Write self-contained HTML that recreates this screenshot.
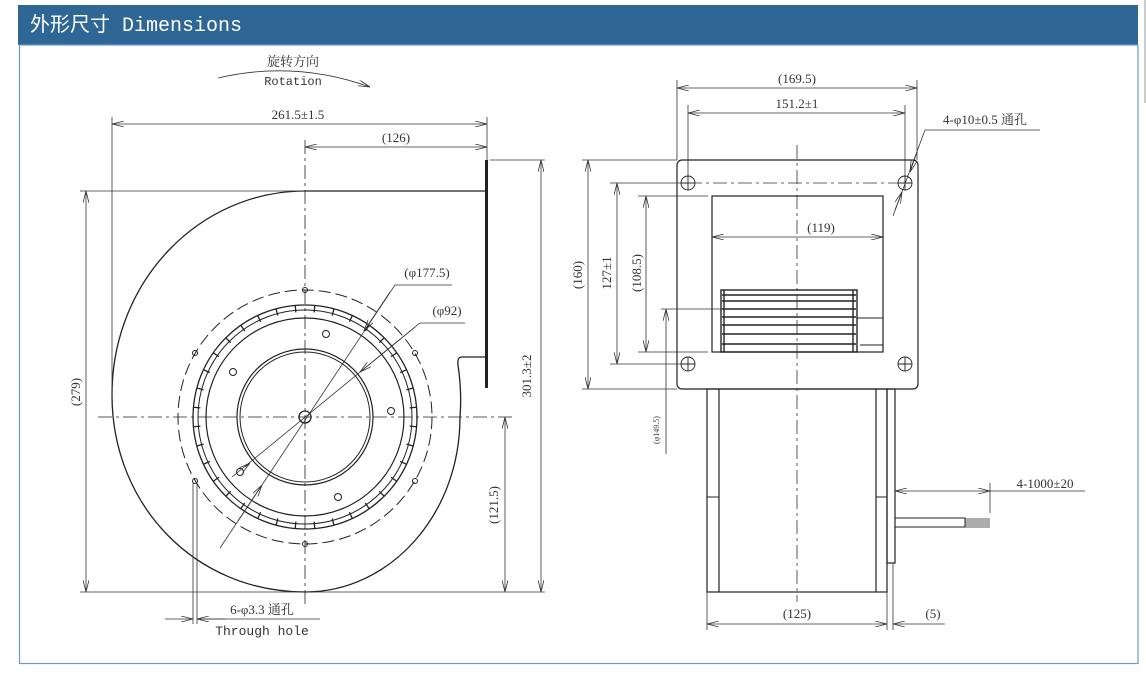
<!DOCTYPE html>
<html><head><meta charset="utf-8"><style>
html,body{margin:0;padding:0;background:#fff;}
svg{display:block;}
text{font-family:"Liberation Serif","Noto Serif CJK SC",serif;fill:#333;}
</style></head><body>
<svg width="1146" height="678" viewBox="0 0 1146 678" xmlns="http://www.w3.org/2000/svg">
<defs>
<marker id="a" viewBox="0 0 12 6" refX="12" refY="3" markerWidth="12" markerHeight="6" orient="auto-start-reverse" markerUnits="userSpaceOnUse"><path d="M0,0 L12,3 L0,6" fill="none" stroke="#333" stroke-width="0.8"/></marker>
</defs>
<rect x="18" y="5" width="1120" height="40" fill="#2e6696"/>
<text x="30" y="31" font-size="20" style="fill:#fff;font-family:'Liberation Mono','Noto Sans CJK SC',monospace">外形尺寸 Dimensions</text>
<rect x="19.5" y="45" width="1118.5" height="618.5" fill="none" stroke="#6a9cc8" stroke-width="1.2"/>
<line x1="1145" y1="0" x2="1145" y2="103" stroke="#bbb" stroke-width="1.5"/>

<g stroke="#222" fill="none" stroke-width="1">
<!-- LEFT VIEW -->
<path d="M305,191 L486,191 M486,357 L462,357 Q457,357 458,365 Q462,392 460,417 C460,515 390,592 305,592 C195,592 112,505 112,395 C112,280 200,191 305,191" stroke-width="1.3"/>
<rect x="485" y="160" width="3" height="228" fill="#222" stroke="none"/>
<circle cx="305" cy="417" r="127" stroke-dasharray="12,5"/>
<circle cx="305" cy="417" r="112" stroke-width="1.3"/>
<circle cx="305" cy="417" r="107"/>
<circle cx="305" cy="417" r="99" stroke-width="1.2"/>
<circle cx="305" cy="417" r="68" stroke-width="1.2"/>
<circle cx="305" cy="417" r="65"/>
<circle cx="305" cy="417" r="6" stroke-width="1.3"/>
<g stroke-width="1.3">
<line x1="305" y1="305" x2="305" y2="312" transform="rotate(5 305 417)"/>
<line x1="305" y1="305" x2="305" y2="312" transform="rotate(15 305 417)"/>
<line x1="305" y1="305" x2="305" y2="312" transform="rotate(25 305 417)"/>
<line x1="305" y1="305" x2="305" y2="312" transform="rotate(35 305 417)"/>
<line x1="305" y1="305" x2="305" y2="312" transform="rotate(45 305 417)"/>
<line x1="305" y1="305" x2="305" y2="312" transform="rotate(55 305 417)"/>
<line x1="305" y1="305" x2="305" y2="312" transform="rotate(65 305 417)"/>
<line x1="305" y1="305" x2="305" y2="312" transform="rotate(75 305 417)"/>
<line x1="305" y1="305" x2="305" y2="312" transform="rotate(85 305 417)"/>
<line x1="305" y1="305" x2="305" y2="312" transform="rotate(95 305 417)"/>
<line x1="305" y1="305" x2="305" y2="312" transform="rotate(105 305 417)"/>
<line x1="305" y1="305" x2="305" y2="312" transform="rotate(115 305 417)"/>
<line x1="305" y1="305" x2="305" y2="312" transform="rotate(125 305 417)"/>
<line x1="305" y1="305" x2="305" y2="312" transform="rotate(135 305 417)"/>
<line x1="305" y1="305" x2="305" y2="312" transform="rotate(145 305 417)"/>
<line x1="305" y1="305" x2="305" y2="312" transform="rotate(155 305 417)"/>
<line x1="305" y1="305" x2="305" y2="312" transform="rotate(165 305 417)"/>
<line x1="305" y1="305" x2="305" y2="312" transform="rotate(175 305 417)"/>
<line x1="305" y1="305" x2="305" y2="312" transform="rotate(185 305 417)"/>
<line x1="305" y1="305" x2="305" y2="312" transform="rotate(195 305 417)"/>
<line x1="305" y1="305" x2="305" y2="312" transform="rotate(205 305 417)"/>
<line x1="305" y1="305" x2="305" y2="312" transform="rotate(215 305 417)"/>
<line x1="305" y1="305" x2="305" y2="312" transform="rotate(225 305 417)"/>
<line x1="305" y1="305" x2="305" y2="312" transform="rotate(235 305 417)"/>
<line x1="305" y1="305" x2="305" y2="312" transform="rotate(245 305 417)"/>
<line x1="305" y1="305" x2="305" y2="312" transform="rotate(255 305 417)"/>
<line x1="305" y1="305" x2="305" y2="312" transform="rotate(265 305 417)"/>
<line x1="305" y1="305" x2="305" y2="312" transform="rotate(275 305 417)"/>
<line x1="305" y1="305" x2="305" y2="312" transform="rotate(285 305 417)"/>
<line x1="305" y1="305" x2="305" y2="312" transform="rotate(295 305 417)"/>
<line x1="305" y1="305" x2="305" y2="312" transform="rotate(305 305 417)"/>
<line x1="305" y1="305" x2="305" y2="312" transform="rotate(315 305 417)"/>
<line x1="305" y1="305" x2="305" y2="312" transform="rotate(325 305 417)"/>
<line x1="305" y1="305" x2="305" y2="312" transform="rotate(335 305 417)"/>
<line x1="305" y1="305" x2="305" y2="312" transform="rotate(345 305 417)"/>
<line x1="305" y1="305" x2="305" y2="312" transform="rotate(355 305 417)"/>
</g>
<circle cx="305" cy="290" r="2.5"/><circle cx="305" cy="544" r="2.5"/>
<circle cx="195" cy="353" r="2.5"/><circle cx="415" cy="353" r="2.5"/>
<circle cx="195" cy="481" r="2.5"/><circle cx="415" cy="481" r="2.5"/>
<circle cx="326" cy="334" r="3.5"/><circle cx="233" cy="372" r="3.5"/>
<circle cx="391" cy="411" r="3.5"/><circle cx="240" cy="472" r="3.5"/>
<circle cx="338" cy="497" r="3.5"/>
<line x1="305" y1="140" x2="305" y2="605" stroke-dasharray="14,4,3,4" stroke-width="0.8"/>
<line x1="98" y1="417" x2="512" y2="417" stroke-dasharray="14,4,3,4" stroke-width="0.8"/>
</g>

<g stroke="#333" fill="none" stroke-width="0.8">
<line x1="112" y1="117" x2="112" y2="400"/>
<line x1="487" y1="117" x2="487" y2="160"/>
<line x1="112" y1="124" x2="487" y2="124" marker-start="url(#a)" marker-end="url(#a)"/>
<line x1="305" y1="147" x2="487" y2="147" marker-start="url(#a)" marker-end="url(#a)"/>
<line x1="80" y1="191" x2="305" y2="191"/>
<line x1="80" y1="592" x2="545" y2="592"/>
<line x1="490" y1="160" x2="545" y2="160"/>
<line x1="86" y1="191" x2="86" y2="592" marker-start="url(#a)" marker-end="url(#a)"/>
<line x1="541" y1="160" x2="541" y2="592" marker-start="url(#a)" marker-end="url(#a)"/>
<line x1="505" y1="417" x2="505" y2="592" marker-start="url(#a)" marker-end="url(#a)"/>
<path d="M218,78 Q295,60 370,87" marker-end="url(#a)"/>
<polyline points="452,285 395,285 220,548"/>
<line x1="390" y1="292" x2="364" y2="331" marker-end="url(#a)"/>
<line x1="238" y1="521" x2="262" y2="485" marker-end="url(#a)"/>
<polyline points="465,323 420,323 232,477"/>
<line x1="415" y1="327" x2="360" y2="372" marker-end="url(#a)"/>
<line x1="245" y1="467" x2="250" y2="463" marker-end="url(#a)"/>
<line x1="193" y1="483" x2="193" y2="624"/>
<line x1="197" y1="483" x2="197" y2="624"/>
<line x1="165" y1="619" x2="193" y2="619" marker-end="url(#a)"/>
<line x1="225" y1="619" x2="197" y2="619" marker-end="url(#a)"/>
<line x1="197" y1="619" x2="320" y2="619"/>
</g>
<g font-size="13">
<text x="293" y="66" text-anchor="middle">旋转方向</text>
<text x="293" y="85" text-anchor="middle" style="font-family:'Liberation Mono',monospace" font-size="12">Rotation</text>
<text x="298" y="119" text-anchor="middle">261.5±1.5</text>
<text x="396" y="142" text-anchor="middle">(126)</text>
<text x="427" y="277" text-anchor="middle">(φ177.5)</text>
<text x="447" y="315" text-anchor="middle">(φ92)</text>
<text x="262" y="614" text-anchor="middle">6-φ3.3 通孔</text>
<text x="262" y="635" text-anchor="middle" style="font-family:'Liberation Mono',monospace">Through hole</text>
<text transform="translate(80,392) rotate(-90)" text-anchor="middle">(279)</text>
<text transform="translate(531,376) rotate(-90)" text-anchor="middle">301.3±2</text>
<text transform="translate(498,505) rotate(-90)" text-anchor="middle">(121.5)</text>
</g>

<g stroke="#222" fill="none" stroke-width="1.2">
<rect x="677" y="160" width="241" height="229" rx="5"/>
<rect x="712" y="196" width="171" height="156"/>
<g stroke-width="0.9">
<circle cx="688" cy="183" r="7"/><path d="M681,183h14M688,176v14"/>
<circle cx="905" cy="183" r="7"/><path d="M898,183h14M905,176v14"/>
<circle cx="688" cy="364" r="7"/><path d="M681,364h14M688,357v14"/>
<circle cx="905" cy="364" r="7"/><path d="M898,364h14M905,357v14"/>
</g>
<g stroke-width="1.4">
<rect x="721" y="290" width="136" height="62"/>
<line x1="724" y1="290" x2="724" y2="352"/>
<line x1="853" y1="290" x2="853" y2="352"/>
<line x1="722" y1="295" x2="856" y2="295"/>
<line x1="722" y1="301" x2="856" y2="301"/>
<line x1="722" y1="309" x2="856" y2="309"/>
<line x1="722" y1="317" x2="856" y2="317"/>
<line x1="722" y1="325" x2="856" y2="325"/>
<line x1="722" y1="334" x2="856" y2="334"/>
<line x1="722" y1="344" x2="856" y2="344"/>
</g>
<path d="M857,318 H883 M860,345 H883" stroke-width="0.9"/>
<rect x="707" y="389" width="180" height="203"/>
<line x1="719" y1="389" x2="719" y2="592"/>
<line x1="876" y1="389" x2="876" y2="592"/>
<path d="M707,497h12M876,497h11" stroke-width="0.9"/>
<rect x="887" y="389" width="8" height="174"/>
<rect x="895" y="518" width="70" height="9" stroke-width="1"/>
<path d="M965,519h25M965,521h25M965,523h25M965,525h25M965,527h25" stroke-width="0.7"/>
</g>
<g stroke="#333" fill="none" stroke-width="0.8">
<line x1="797" y1="145" x2="797" y2="602" stroke-dasharray="14,4,3,4"/>
<line x1="688" y1="183" x2="905" y2="183" stroke-dasharray="14,4,3,4"/>
<line x1="677" y1="80" x2="677" y2="160"/>
<line x1="917" y1="80" x2="917" y2="160"/>
<line x1="688" y1="105" x2="688" y2="176"/>
<line x1="905" y1="105" x2="905" y2="176"/>
<line x1="677" y1="88" x2="917" y2="88" marker-start="url(#a)" marker-end="url(#a)"/>
<line x1="688" y1="113" x2="905" y2="113" marker-start="url(#a)" marker-end="url(#a)"/>
<polyline points="1040,130 925,130 893,216"/>
<line x1="917" y1="152" x2="910" y2="172" marker-end="url(#a)"/>
<line x1="895" y1="210" x2="902" y2="192" marker-end="url(#a)"/>
<line x1="582" y1="160" x2="677" y2="160"/>
<line x1="582" y1="389" x2="677" y2="389"/>
<line x1="610" y1="183" x2="681" y2="183"/>
<line x1="610" y1="364" x2="681" y2="364"/>
<line x1="638" y1="196" x2="708" y2="196"/>
<line x1="638" y1="352" x2="708" y2="352"/>
<line x1="661" y1="309" x2="722" y2="309"/>
<line x1="588" y1="160" x2="588" y2="389" marker-start="url(#a)" marker-end="url(#a)"/>
<line x1="617" y1="183" x2="617" y2="364" marker-start="url(#a)" marker-end="url(#a)"/>
<line x1="646" y1="196" x2="646" y2="352" marker-start="url(#a)" marker-end="url(#a)"/>
<line x1="666" y1="454" x2="666" y2="309" marker-end="url(#a)"/>
<line x1="712" y1="237" x2="883" y2="237" marker-start="url(#a)" marker-end="url(#a)"/>
<line x1="707" y1="592" x2="707" y2="630"/>
<line x1="887" y1="592" x2="887" y2="630"/>
<line x1="893" y1="563" x2="893" y2="630"/>
<line x1="707" y1="624" x2="887" y2="624" marker-start="url(#a)" marker-end="url(#a)"/>
<line x1="945" y1="624" x2="893" y2="624" marker-end="url(#a)"/>
<line x1="990" y1="483" x2="990" y2="513"/>
<line x1="895" y1="491" x2="990" y2="491" marker-start="url(#a)" marker-end="url(#a)"/>
<line x1="990" y1="491" x2="1085" y2="491"/>
</g>
<g font-size="13">
<text x="797" y="83" text-anchor="middle">(169.5)</text>
<text x="797" y="108" text-anchor="middle">151.2±1</text>
<text x="985" y="124" text-anchor="middle">4-φ10±0.5 通孔</text>
<text x="821" y="232" text-anchor="middle">(119)</text>
<text x="797" y="618" text-anchor="middle">(125)</text>
<text x="933" y="618" text-anchor="middle">(5)</text>
<text x="1045" y="488" text-anchor="middle">4-1000±20</text>
<text transform="translate(582,275) rotate(-90)" text-anchor="middle">(160)</text>
<text transform="translate(611,273) rotate(-90)" text-anchor="middle">127±1</text>
<text transform="translate(641,273) rotate(-90)" text-anchor="middle">(108.5)</text>
<text transform="translate(659,430) rotate(-90)" text-anchor="middle" font-size="8">(φ149.5)</text>
</g>
</svg>
</body></html>
